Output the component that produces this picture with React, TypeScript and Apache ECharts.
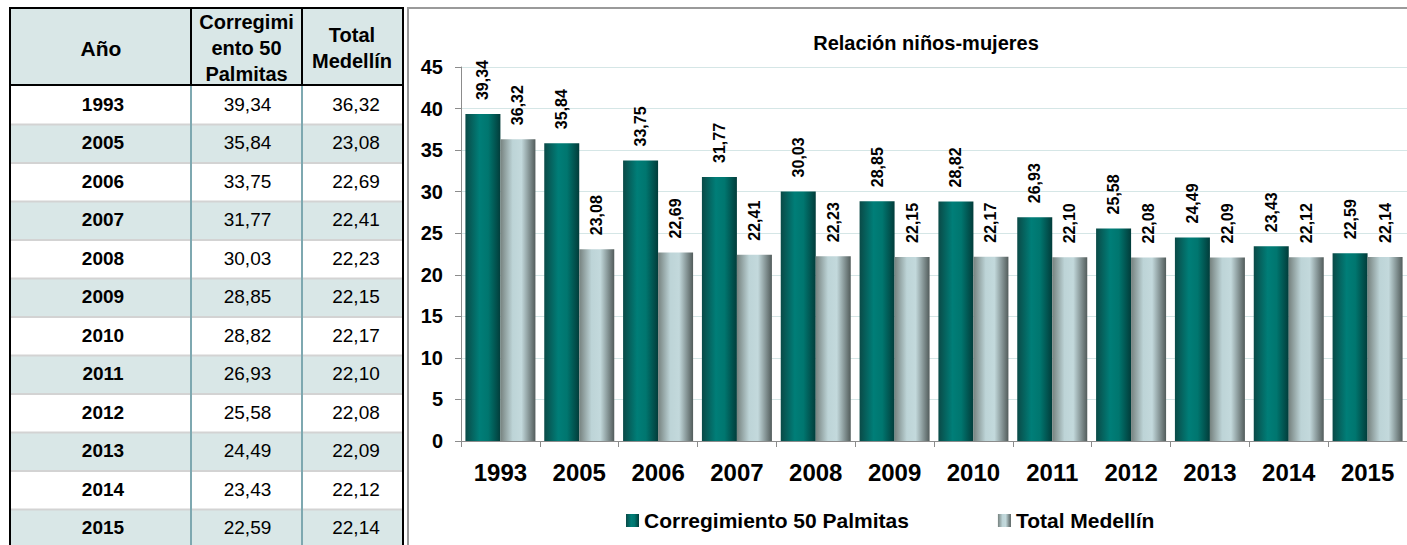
import React, { useEffect, useRef } from "react";
import * as echarts from "echarts";

const years = ["1993", "2005", "2006", "2007", "2008", "2009", "2010", "2011", "2012", "2013", "2014", "2015"];
const palmitas = [39.34, 35.84, 33.75, 31.77, 30.03, 28.85, 28.82, 26.93, 25.58, 24.49, 23.43, 22.59];
const medellin = [36.32, 23.08, 22.69, 22.41, 22.23, 22.15, 22.17, 22.1, 22.08, 22.09, 22.12, 22.14];
const seriesNames = ["Corregimiento 50 Palmitas", "Total Medellín"];
const tableHeaders = ["Año", "Corregimi\nento 50\nPalmitas", "Total\nMedellín"];
const chartTitle = "Relación niños-mujeres";
const yMin = 0;
const yMax = 45;
const yStep = 5;

const FONT = "'Liberation Sans', Arial, Helvetica, sans-serif";
const fmt = (v: number) => v.toFixed(2).replace(".", ",");

const tealGrad = new echarts.graphic.LinearGradient(0, 0, 1, 0, [
  { offset: 0, color: "#0a4a47" },
  { offset: 0.4, color: "#007e78" },
  { offset: 0.65, color: "#00766f" },
  { offset: 1, color: "#023c3a" },
]);
const grayGrad = new echarts.graphic.LinearGradient(0, 0, 1, 0, [
  { offset: 0, color: "#76827f" },
  { offset: 0.35, color: "#bdd4d7" },
  { offset: 0.6, color: "#c3d9dc" },
  { offset: 1, color: "#525c5b" },
]);

function buildTable() {
  const els: any[] = [];
  const L = 11, R = 402, top = 9, headBottom = 85, rowTop = 86, rowH = 38.5;
  const c1 = 190, c2 = 301;
  const bg = "#d9e7e7";
  els.push({ type: "rect", z: 1, shape: { x: L, y: top, width: R - L, height: headBottom - top }, style: { fill: bg } });
  years.forEach((_, i) => {
    if (i % 2 === 1) {
      els.push({ type: "rect", z: 1, shape: { x: L, y: rowTop + i * rowH, width: R - L, height: rowH }, style: { fill: bg } });
    }
    if (i > 0) {
      els.push({ type: "rect", z: 2, shape: { x: L, y: rowTop + i * rowH - 1, width: R - L, height: 2 }, style: { fill: "#d3d3d3" } });
    }
  });
  [c1, c2].forEach((cx) => {
    els.push({ type: "rect", z: 3, shape: { x: cx, y: headBottom, width: 2, height: 545 - headBottom }, style: { fill: "#7ea8b0" } });
    els.push({ type: "rect", z: 4, shape: { x: cx, y: 7, width: 2, height: headBottom - 6 }, style: { fill: "#000" } });
  });
  els.push({ type: "rect", z: 4, shape: { x: 9, y: 7, width: 2, height: 545 }, style: { fill: "#000" } });
  els.push({ type: "rect", z: 4, shape: { x: 402, y: 7, width: 2, height: 545 }, style: { fill: "#000" } });
  els.push({ type: "rect", z: 4, shape: { x: 9, y: 7, width: 395, height: 2 }, style: { fill: "#000" } });
  els.push({ type: "rect", z: 4, shape: { x: 9, y: headBottom - 1, width: 395, height: 2 }, style: { fill: "#000" } });
  const colCenters = [101, 246.5, 352];
  tableHeaders.forEach((h, j) => {
    els.push({
      type: "text", z: 5, x: colCenters[j], y: 48,
      style: { text: h, fill: "#000", font: `bold ${j === 0 ? 21 : 20}px ${FONT}`, align: "center", verticalAlign: "middle", lineHeight: 26 },
    });
  });
  years.forEach((y, i) => {
    const cy = rowTop + (i + 0.5) * rowH - 1;
    els.push({ type: "text", z: 5, x: colCenters[0] + 2, y: cy, style: { text: y, fill: "#000", font: `bold 19px ${FONT}`, align: "center", verticalAlign: "middle" } });
    els.push({ type: "text", z: 5, x: colCenters[1] + 1, y: cy, style: { text: fmt(palmitas[i]), fill: "#000", font: `19px ${FONT}`, align: "center", verticalAlign: "middle" } });
    els.push({ type: "text", z: 5, x: colCenters[2] + 4, y: cy, style: { text: fmt(medellin[i]), fill: "#000", font: `19px ${FONT}`, align: "center", verticalAlign: "middle" } });
  });
  els.push({ type: "rect", z: 0, shape: { x: 408, y: 8, width: 1010, height: 560 }, style: { fill: "none", stroke: "#9a9a9a", lineWidth: 2 } });
  return els;
}

export default function App() {
  const ref = useRef<HTMLDivElement>(null);
  useEffect(() => {
    if (!ref.current) return;
    const chart = echarts.init(ref.current, undefined, { renderer: "svg" });
    const labelCfg = {
      show: true,
      position: "top",
      rotate: 90,
      align: "left",
      verticalAlign: "middle",
      distance: 14,
      fontFamily: FONT,
      fontWeight: "bold",
      fontSize: 16,
      color: "#000",
      formatter: (p: any) => fmt(p.value),
    };
    chart.setOption({
      animation: false,
      backgroundColor: "#fff",
      textStyle: { fontFamily: FONT },
      title: {
        text: chartTitle,
        left: 921,
        top: 28,
        textAlign: "center",
        textStyle: { fontFamily: FONT, fontWeight: "bold", fontSize: 20, color: "#000" },
      },
      legend: {
        left: 621,
        top: 505,
        itemWidth: 13,
        itemHeight: 13,
        itemGap: 89,
        icon: "rect",
        textStyle: { fontFamily: FONT, fontWeight: "bold", fontSize: 21, color: "#000" },
        data: seriesNames,
      },
      grid: { left: 461, right: 0, top: 67, bottom: 104, containLabel: false },
      xAxis: {
        type: "category",
        data: years,
        axisLine: { lineStyle: { color: "#8c8c8c", width: 1 } },
        axisTick: { show: true, length: 6, lineStyle: { color: "#8c8c8c" } },
        axisLabel: { fontFamily: FONT, fontWeight: "bold", fontSize: 24, color: "#000", margin: 19 },
      },
      yAxis: {
        type: "value",
        min: yMin,
        max: yMax,
        interval: yStep,
        axisLine: { show: true, lineStyle: { color: "#8c8c8c", width: 1 } },
        axisTick: { show: true, length: 6, lineStyle: { color: "#8c8c8c" } },
        axisLabel: { fontFamily: FONT, fontWeight: "bold", fontSize: 20, color: "#000", margin: 18 },
        splitLine: { lineStyle: { color: "#d5e6e6", width: 1 } },
      },
      graphic: buildTable(),
      series: [
        {
          name: seriesNames[0],
          type: "bar",
          data: palmitas,
          barWidth: 35,
          barGap: "0%",
          itemStyle: { color: tealGrad },
          label: labelCfg,
        },
        {
          name: seriesNames[1],
          type: "bar",
          data: medellin,
          barWidth: 35,
          barGap: "0%",
          itemStyle: { color: grayGrad },
          label: labelCfg,
        },
      ],
    });
    return () => chart.dispose();
  }, []);
  return <div ref={ref} style={{ position: "fixed", left: 0, top: 0, width: 1407, height: 545 }} />;
}
